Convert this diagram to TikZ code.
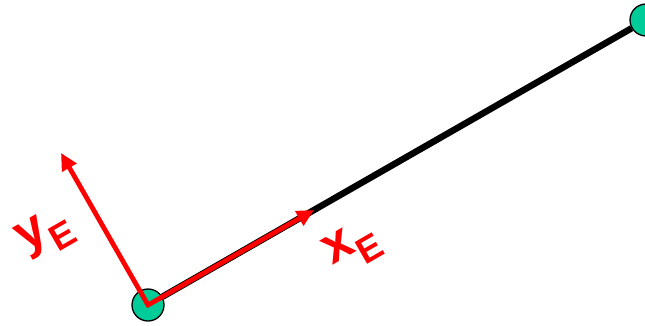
\documentclass[tikz,border=0pt]{standalone}
\usepackage{fontspec}
\setmainfont{Liberation Sans}
\usetikzlibrary{arrows.meta}
\definecolor{jointgreen}{RGB}{0,204,153}

\begin{document}
\begin{tikzpicture}[
  x=1pt,y=-1pt,
  >={Triangle[length=17pt,width=16pt]},
  joint/.style={circle,draw=black,line width=1.3pt,fill=jointgreen,
                minimum size=32pt,inner sep=0pt},
  link/.style={line width=6.5pt,black},
  axis/.style={<->,line width=4.8pt,red,line join=miter},
  lbl/.style={text=red,font=\bfseries\fontsize{52}{60}\selectfont,
              rotate=30,inner sep=0pt},
]
\useasboundingbox (0,0) rectangle (645,325);

\coordinate (xtip) at (314,210);
\coordinate (ytip) at (61,153);

% the link and its two joints
\node[joint] (base) at (148,305) {};
\node[joint] (tip)  at (646,20) {};
\draw[link] (base) -- (tip);

% end-effector frame
\draw[axis] (ytip) -- (base.center) -- (xtip);

\node[lbl] (ylbl) at (46,234) {y\textsubscript{E}};
\node[lbl] (xlbl) at (353,247) {x\textsubscript{E}};

\end{tikzpicture}
\end{document}
